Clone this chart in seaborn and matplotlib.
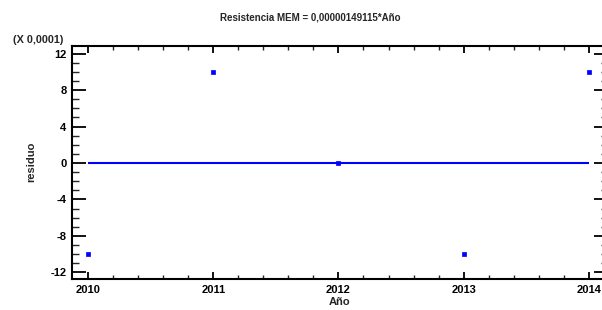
import matplotlib
matplotlib.use("Agg")
import matplotlib.pyplot as plt
import seaborn as sns
import pandas as pd
from matplotlib.ticker import MultipleLocator, FuncFormatter

# Data (residuals in units of 0.0001)
years = [2010, 2011, 2012, 2013, 2014]
residuals = [-10, 10, 0, -10, 10]
title = "Resistencia MEM = 0,00000149115*Año"
scale_label = "(X 0,0001)"
xlabel = "Año"
ylabel = "residuo"

sns.set_theme(style="white")
plt.rcParams["font.family"] = ["Liberation Sans", "DejaVu Sans"]

df = pd.DataFrame({"year": years, "resid": residuals})

fig = plt.figure(figsize=(6.02, 3.10), dpi=100)
ax = fig.add_axes([72/602, 1-279/310, 536/602, (279-45.5)/310])

ax.hlines(0, years[0], years[-1], color="#0000ff", lw=1.5, zorder=2)
sns.scatterplot(data=df, x="year", y="resid", ax=ax, marker="s", s=9,
                color="#0000ff", edgecolor="#0000ff", linewidth=0.5, zorder=3)

ax.set_xlim(2009.872, 2014.153)
ax.set_ylim(-12.73, 12.9)
ax.xaxis.set_major_locator(MultipleLocator(1))
ax.xaxis.set_minor_locator(MultipleLocator(0.2))
ax.yaxis.set_major_locator(MultipleLocator(4))
ax.yaxis.set_minor_locator(MultipleLocator(1))
ax.yaxis.set_major_formatter(FuncFormatter(lambda v, p: f"{int(round(v))}"))
ax.xaxis.set_major_formatter(FuncFormatter(lambda v, p: f"{int(round(v))}"))

for s in ax.spines.values():
    s.set_color("black")
    s.set_linewidth(1.5)

ax.tick_params(axis="y", which="major", direction="in", length=10, width=1.3,
               left=True, right=True, labelsize=8, pad=4, colors="black")
ax.tick_params(axis="y", which="minor", direction="in", length=5, width=1.0,
               left=True, right=True)
ax.tick_params(axis="x", which="major", direction="in", length=5, width=1.3,
               bottom=True, top=True, labelsize=8, pad=4, colors="black")
ax.tick_params(axis="x", which="minor", direction="in", length=3, width=1.0,
               bottom=True, top=True)
for lab in ax.get_xticklabels() + ax.get_yticklabels():
    lab.set_fontweight("bold")

ax.set_xlabel(xlabel, fontsize=8, fontweight="bold", labelpad=2)
ax.set_ylabel(ylabel, fontsize=8, fontweight="bold", labelpad=10)

fig.text(310/602, 1-18/310, title, ha="center", va="center", fontsize=7, fontweight="bold")
fig.text(38/602, 1-40/310, scale_label, ha="center", va="center", fontsize=7.8, fontweight="bold")

fig.savefig("out.png", dpi=100)
